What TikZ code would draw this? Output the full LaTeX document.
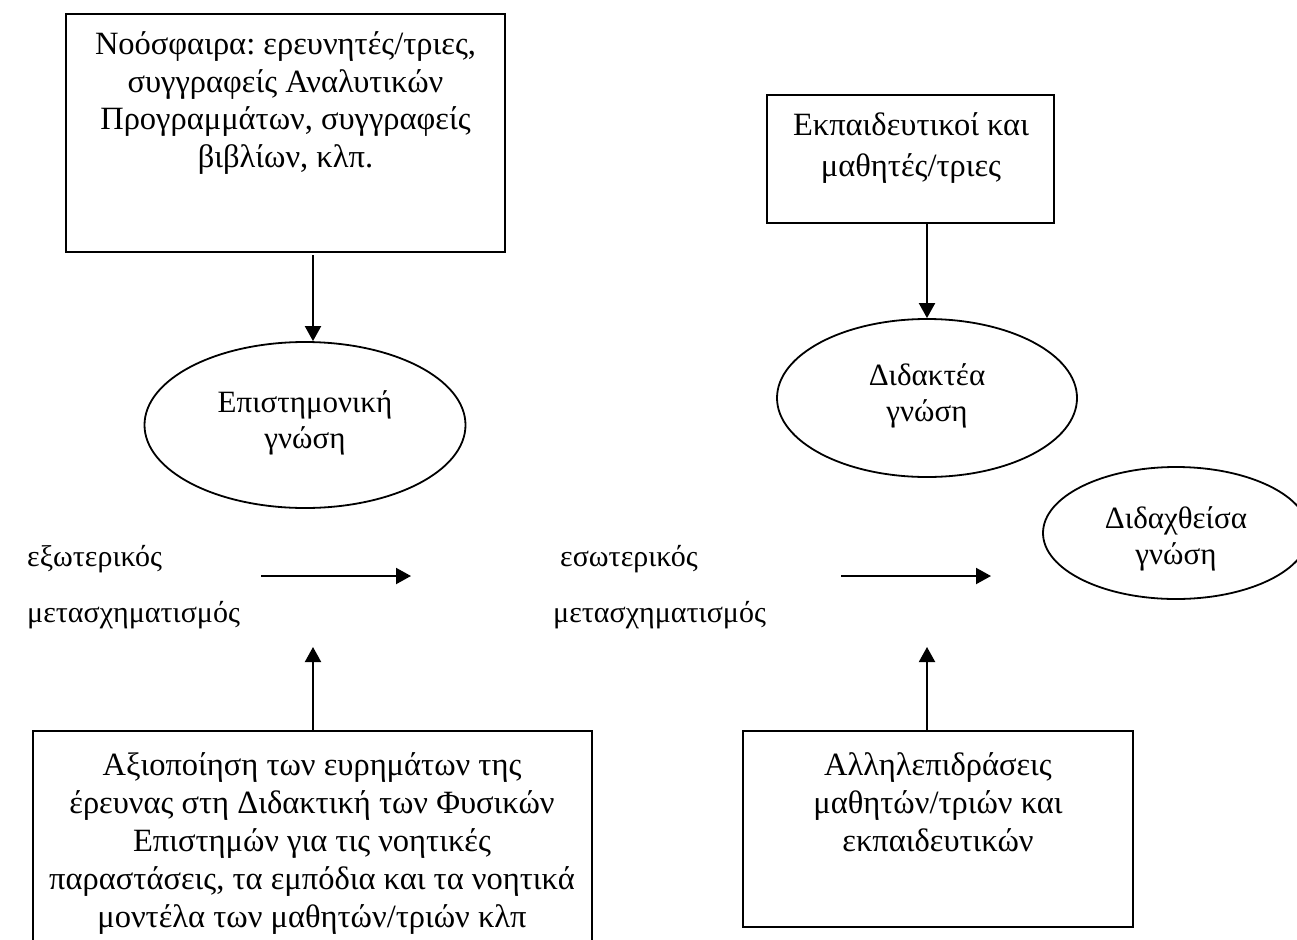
\documentclass[tikz,border=0pt]{standalone}
\usepackage{fontspec}
\setmainfont{Liberation Serif}
\usepackage{tikz}
\usetikzlibrary{arrows.meta,shapes.geometric,positioning}
\frenchspacing
\tikzstyle{bx}=[draw,line width=2pt,rectangle,inner sep=0pt]
\tikzstyle{ov}=[draw,line width=1.8pt,ellipse,inner sep=0pt]
\tikzstyle{txt}=[align=center,inner sep=0pt,anchor=base,font=\fontsize{32.5}{37.5}\selectfont]
\tikzstyle{otxt}=[txt,font=\fontsize{31}{36}\selectfont]
\tikzstyle{lbl}=[align=left,inner sep=0pt,anchor=base west,font=\fontsize{30}{56}\selectfont]
\tikzstyle{arr}=[-{Triangle[length=15pt,width=16pt]},line width=2pt]

\begin{document}
\begin{tikzpicture}[x=1pt,y=-1pt]
            \useasboundingbox (0,0) rectangle (1297,939);
            % boxes
            \node[bx, minimum width=439pt, minimum height=238pt] (noos) at (285.5,133) {};
            \node[bx, minimum width=287pt, minimum height=128pt] (teach) at (910.5,159) {};
            \node[bx, minimum width=559pt, minimum height=229pt] (abox) at (312.5,845.5) {};
            \node[bx, minimum width=390pt, minimum height=196pt] (inter) at (938,829) {};
            \node[txt] (noostxt) at (285.5,167)
                {Νοόσφαιρα: ερευνητές/τριες,\\συγγραφείς Αναλυτικών\\Προγραμμάτων, συγγραφείς\\βιβλίων, κλπ.};
            \node[txt, font=\fontsize{32.5}{41}\selectfont] (teachtxt) at (911,176) {Εκπαιδευτικοί και\\μαθητές/τριες};
            \node[txt, font=\fontsize{32.5}{38}\selectfont] (aboxtxt) at (312,927)
                {Αξιοποίηση των ευρημάτων της\\έρευνας στη Διδακτική των Φυσικών\\Επιστημών για τις νοητικές\\παραστάσεις, τα εμπόδια και τα νοητικά\\μοντέλα των μαθητών/τριών κλπ};
            \node[txt, font=\fontsize{32.5}{38}\selectfont] (intertxt) at (938,851) {Αλληλεπιδράσεις\\μαθητών/τριών και\\εκπαιδευτικών};
            % ellipses
            \node[ov, minimum width=321pt, minimum height=166pt] (sci) at (305,425) {};
            \node[ov, minimum width=300pt, minimum height=158pt] (didakt) at (927,398) {};
            \node[ov, minimum width=266pt, minimum height=132pt] (didax) at (1176,533) {};
            \node[otxt] (scitxt) at (305,448) {Επιστημονική\\γνώση};
            \node[otxt] (didakttxt) at (927,421) {Διδακτέα\\γνώση};
            \node[otxt] (didaxtxt) at (1176,564) {Διδαχθείσα\\γνώση};
            % transformations
            \node[lbl] (ext) at (27,622) {εξωτερικός\\μετασχηματισμός};
            \node[lbl] (int) at (553,622) {\hspace{7pt}εσωτερικός\\μετασχηματισμός};
            % arrow ends
            \coordinate (d1) at (313,255);
            \coordinate (u1) at (313,647);
            \coordinate (u2) at (927,647);
            \coordinate (a1) at (261,576);
            \coordinate (b1) at (411,576);
            \coordinate (a2) at (841,576);
            \coordinate (b2) at (991,576);
            \draw[arr] (d1) -- (d1 |- sci.north);
            \draw[arr] (teach.south -| didakt.north) -- (didakt.north);
            \draw[arr] (abox.north -| u1) -- (u1);
            \draw[arr] (inter.north -| u2) -- (u2);
            \draw[arr] (a1) -- (b1);
            \draw[arr] (a2) -- (b2);
        \end{tikzpicture}
\end{document}
